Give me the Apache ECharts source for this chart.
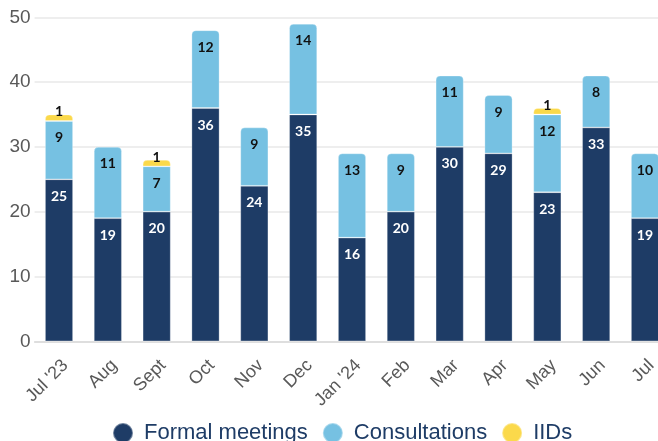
<!DOCTYPE html>
<html><head><meta charset="utf-8">
<script src="https://cdn.jsdelivr.net/npm/echarts@6/dist/echarts.min.js"></script>
<style>html,body{margin:0;padding:0;background:#fff}#c{width:658px;height:441px}</style>
</head><body><div id="c"></div>
<script>
const categories = ["Jul '23","Aug","Sept","Oct","Nov","Dec","Jan '24","Feb","Mar","Apr","May","Jun","Jul"];
const formalMeetings = [25,19,20,36,24,35,16,20,30,29,23,33,19];
const consultations = [9,11,7,12,9,14,13,9,11,9,12,8,10];
const iids = [1,0,1,0,0,0,0,0,0,0,1,0,0];
const yTicks = [0,10,20,30,40,50];

const colors = ['#1e3c66','#76c1e2','#fbd94b'];
const seriesVals = [formalMeetings, consultations, iids];
const names = ['Formal meetings','Consultations','IIDs'];

function topIndex(i){
  let t = -1;
  for (let s=0;s<seriesVals.length;s++) if (seriesVals[s][i] > 0) t = s;
  return t;
}
const font = "'Liberation Sans', Arial, sans-serif";
const series = seriesVals.map((vals, s) => ({
  name: names[s],
  type: 'bar',
  stack: 'total',
  barWidth: 28,
  itemStyle: {color: colors[s], borderColor: 'rgba(255,255,255,0.35)', borderWidth: 0.8},
  label: {
    show: true,
    position: s === 2 ? 'inside' : 'insideTop',
    distance: 10,
    offset: s === 2 ? [0,-6] : [0,0],
    color: s === 0 ? '#ffffff' : '#111111',
    fontWeight: 'bold',
    fontSize: 14,
    fontFamily: "Lato, 'Open Sans', sans-serif",
    formatter: p => p.value > 0 ? String(p.value) : ''
  },
  data: vals.map((v, i) => ({
    value: v === 0 ? null : v,
    itemStyle: topIndex(i) === s ? {borderRadius: [4,4,0,0]} : {}
  }))
}));

const chart = echarts.init(document.getElementById('c'), null, {renderer:'canvas'});
chart.setOption({
  animation: false,
  color: colors,
  grid: {left: 34.6, top: 17.3, height: 324, width: 634.8, containLabel: false, outerBoundsMode: 'none'},
  legend: {
    data: names.map(n => ({name: n, icon: 'circle'})),
    bottom: -8,
    left: 107,
    itemWidth: 20, itemHeight: 20, itemGap: 14,
    textStyle: {fontSize: 22, color: '#1e3c66', fontFamily: font, padding: [0,0,0,6]}
  },
  xAxis: {
    type: 'category',
    data: categories,
    axisTick: {show: false},
    axisLine: {lineStyle: {color: '#d9d9d9', width: 1.5}},
    axisLabel: {rotate: 45, fontSize: 18, color: '#595959', fontFamily: font, margin: 15, interval: 0, verticalAlign: 'top'}
  },
  yAxis: {
    type: 'value',
    min: yTicks[0], max: yTicks[yTicks.length-1], interval: 10,
    axisLine: {show: false},
    axisTick: {show: false},
    splitLine: {lineStyle: {color: '#e8e8e8', width: 1.5}},
    axisLabel: {fontSize: 19, color: '#595959', fontFamily: font, margin: 4}
  },
  series: series
});
</script></body></html>
